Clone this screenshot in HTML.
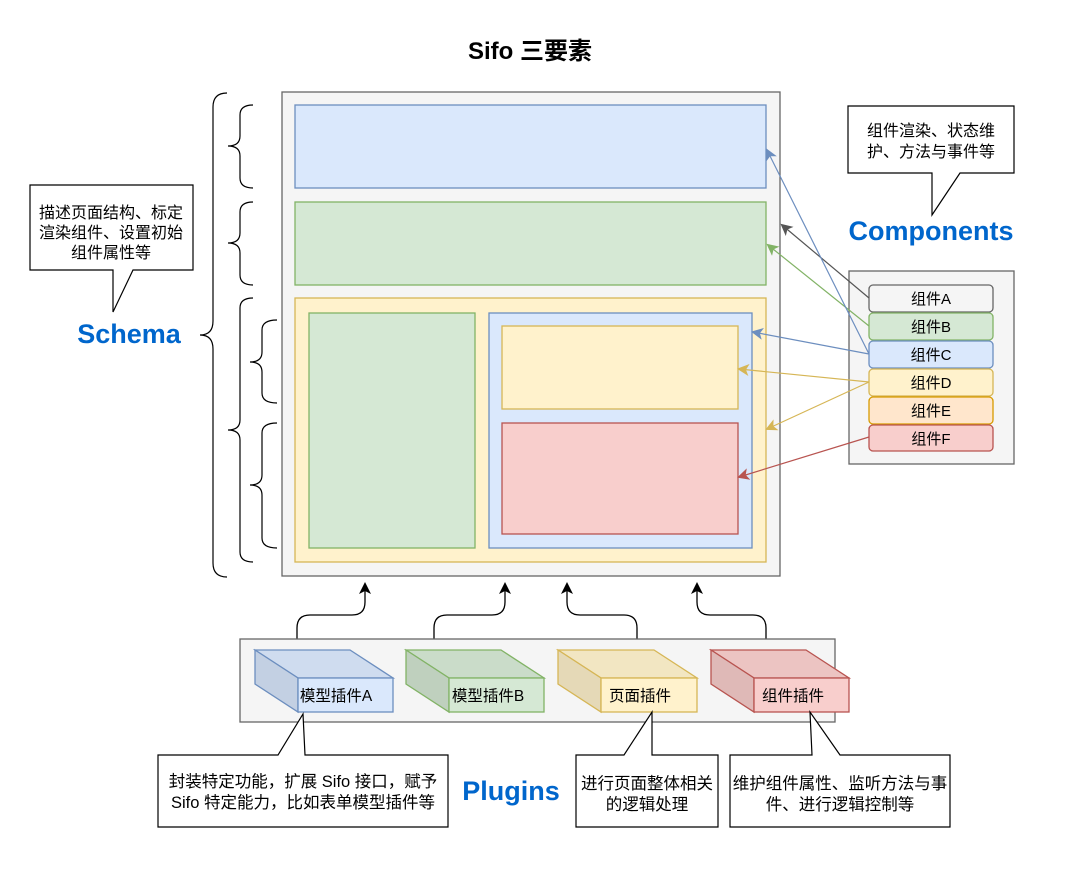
<!DOCTYPE html>
<html><head><meta charset="utf-8"><style>
body{margin:0;background:#fff}
text{font-family:"Liberation Sans","Noto Sans CJK SC",sans-serif}
</style></head><body>
<svg width="1070" height="872" viewBox="0 0 1070 872" xmlns="http://www.w3.org/2000/svg">
<defs>
<marker id="ab" markerWidth="12" markerHeight="12" refX="10" refY="6" orient="auto" markerUnits="userSpaceOnUse"><path d="M0,0 L12,6 L0,12 L3,6 Z" fill="#6c8ebf"/></marker>
<marker id="ag" markerWidth="12" markerHeight="12" refX="10" refY="6" orient="auto" markerUnits="userSpaceOnUse"><path d="M0,0 L12,6 L0,12 L3,6 Z" fill="#82b366"/></marker>
<marker id="ak" markerWidth="12" markerHeight="12" refX="10" refY="6" orient="auto" markerUnits="userSpaceOnUse"><path d="M0,0 L12,6 L0,12 L3,6 Z" fill="#555"/></marker>
<marker id="ay" markerWidth="12" markerHeight="12" refX="10" refY="6" orient="auto" markerUnits="userSpaceOnUse"><path d="M0,0 L12,6 L0,12 L3,6 Z" fill="#d6b656"/></marker>
<marker id="ar" markerWidth="12" markerHeight="12" refX="10" refY="6" orient="auto" markerUnits="userSpaceOnUse"><path d="M0,0 L12,6 L0,12 L3,6 Z" fill="#b85450"/></marker>
<marker id="a0" markerWidth="12" markerHeight="12" refX="10" refY="6" orient="auto" markerUnits="userSpaceOnUse"><path d="M0,0 L12,6 L0,12 L3,6 Z" fill="#000"/></marker>
</defs>
<text x="530" y="59" text-anchor="middle" font-size="24" font-weight="bold">Sifo 三要素</text>

<rect x="282" y="92" width="498" height="484" fill="#f5f5f5" stroke="#666" stroke-width="1.3"/>
<rect x="295" y="105" width="471" height="83" fill="#dae8fc" stroke="#6c8ebf" stroke-width="1.3"/>
<rect x="295" y="202" width="471" height="83" fill="#d5e8d4" stroke="#82b366" stroke-width="1.3"/>
<rect x="295" y="298" width="471" height="264" fill="#fff2cc" stroke="#d6b656" stroke-width="1.3"/>
<rect x="309" y="313" width="166" height="235" fill="#d5e8d4" stroke="#82b366" stroke-width="1.3"/>
<rect x="489" y="313" width="263" height="235" fill="#dae8fc" stroke="#6c8ebf" stroke-width="1.3"/>
<rect x="502" y="326" width="236" height="83" fill="#fff2cc" stroke="#d6b656" stroke-width="1.3"/>
<rect x="502" y="423" width="236" height="111" fill="#f8cecc" stroke="#b85450" stroke-width="1.3"/>

<g fill="none" stroke="#000" stroke-width="1.2">
<path d="M227,93 Q213,93 213,107 L213,321 Q213,335 200,335 Q213,335 213,349 L213,563 Q213,577 227,577"/>
<path d="M253,105 Q240,105 240,115 L240,136 Q240,146 228,146 Q240,146 240,156 L240,178 Q240,188 253,188"/>
<path d="M253,202 Q240,202 240,212 L240,233 Q240,243 228,243 Q240,243 240,253 L240,275 Q240,285 253,285"/>
<path d="M253,298 Q240,298 240,308 L240,420 Q240,430 228,430 Q240,430 240,440 L240,552 Q240,562 253,562"/>
<path d="M277,320 Q262,320 262,330 L262,352 Q262,362 250,362 Q262,362 262,372 L262,393 Q262,403 277,403"/>
<path d="M277,423 Q262,423 262,433 L262,475 Q262,485 250,485 Q262,485 262,495 L262,538 Q262,548 277,548"/>
</g>

<path d="M30,185 L193,185 L193,270 L133,270 L113,312 L113,270 L30,270 Z" fill="#fff" stroke="#000" stroke-width="1.2"/>
<text font-size="16" text-anchor="middle"><tspan x="111" y="218">描述页面结构、标定</tspan><tspan x="111" y="238">渲染组件、设置初始</tspan><tspan x="111" y="258">组件属性等</tspan></text>
<text x="129" y="343" text-anchor="middle" font-size="27" font-weight="bold" fill="#0066cc">Schema</text>

<path d="M848,106 L1014,106 L1014,173 L960,173 L932,215 L932,173 L848,173 Z" fill="#fff" stroke="#000" stroke-width="1.2"/>
<text font-size="16" text-anchor="middle"><tspan x="931" y="136">组件渲染、状态维</tspan><tspan x="931" y="157">护、方法与事件等</tspan></text>
<text x="931" y="240" text-anchor="middle" font-size="27" font-weight="bold" fill="#0066cc">Components</text>

<rect x="849" y="271" width="165" height="193" fill="#f5f5f5" stroke="#666" stroke-width="1.3"/>
<g stroke-width="1.3">
<rect x="869" y="285" width="124" height="27" rx="4" fill="#f5f5f5" stroke="#666"/>
<rect x="869" y="313" width="124" height="27" rx="4" fill="#d5e8d4" stroke="#82b366"/>
<rect x="869" y="341" width="124" height="27" rx="4" fill="#dae8fc" stroke="#6c8ebf"/>
<rect x="869" y="369" width="124" height="27" rx="4" fill="#fff2cc" stroke="#d6b656"/>
<rect x="869" y="397" width="124" height="27" rx="4" fill="#ffe6cc" stroke="#d79b00"/>
<rect x="869" y="425" width="124" height="26" rx="4" fill="#f8cecc" stroke="#b85450"/>
</g>
<g font-size="15" text-anchor="middle">
<text x="931" y="304">组件A</text><text x="931" y="332">组件B</text><text x="931" y="360">组件C</text>
<text x="931" y="388">组件D</text><text x="931" y="416">组件E</text><text x="931" y="444">组件F</text>
</g>

<g fill="none" stroke-width="1.2">
<line x1="869" y1="298" x2="782" y2="225" stroke="#555" marker-end="url(#ak)"/>
<line x1="869" y1="326" x2="768" y2="245" stroke="#82b366" marker-end="url(#ag)"/>
<line x1="869" y1="354" x2="767" y2="150" stroke="#6c8ebf" marker-end="url(#ab)"/>
<line x1="869" y1="354" x2="753" y2="332" stroke="#6c8ebf" marker-end="url(#ab)"/>
<line x1="869" y1="382" x2="739" y2="369" stroke="#d6b656" marker-end="url(#ay)"/>
<line x1="869" y1="382" x2="767" y2="429" stroke="#d6b656" marker-end="url(#ay)"/>
<line x1="869" y1="437" x2="739" y2="477" stroke="#b85450" marker-end="url(#ar)"/>
</g>

<g fill="none" stroke="#000" stroke-width="1.3">
<path d="M297,650 L297,628 Q297,615 310,615 L352,615 Q365,615 365,602 L365,584" marker-end="url(#a0)"/>
<path d="M434,650 L434,628 Q434,615 447,615 L492,615 Q505,615 505,602 L505,584" marker-end="url(#a0)"/>
<path d="M637,648 L637,628 Q637,615 624,615 L580,615 Q567,615 567,602 L567,584" marker-end="url(#a0)"/>
<path d="M766,650 L766,628 Q766,615 753,615 L710,615 Q697,615 697,602 L697,584" marker-end="url(#a0)"/>
</g>

<rect x="240" y="639" width="595" height="83" fill="#f5f5f5" stroke="#666" stroke-width="1.3"/>
<g stroke-width="1.3">
<g stroke="#6c8ebf"><path d="M255,650 L350,650 L393,678 L298,678 Z" fill="#cfdcef"/><path d="M255,650 L298,678 L298,712 L255,684 Z" fill="#c3d0e3"/><rect x="298" y="678" width="95" height="34" fill="#dae8fc"/></g>
<g stroke="#82b366"><path d="M406,650 L501,650 L544,678 L449,678 Z" fill="#cadcc9"/><path d="M406,650 L449,678 L449,712 L406,684 Z" fill="#bfd0be"/><rect x="449" y="678" width="95" height="34" fill="#d5e8d4"/></g>
<g stroke="#d6b656"><path d="M558,650 L654,650 L697,678 L601,678 Z" fill="#f2e6c2"/><path d="M558,650 L601,678 L601,712 L558,684 Z" fill="#e5d9b7"/><rect x="601" y="678" width="96" height="34" fill="#fff2cc"/></g>
<g stroke="#b85450"><path d="M711,650 L806,650 L849,678 L754,678 Z" fill="#ecc4c2"/><path d="M711,650 L754,678 L754,712 L711,684 Z" fill="#dfb9b7"/><rect x="754" y="678" width="95" height="34" fill="#f8cecc"/></g>
</g>
<g font-size="15.5" text-anchor="middle">
<text x="336" y="701">模型插件A</text><text x="488" y="701">模型插件B</text>
<text x="640" y="701">页面插件</text><text x="793" y="701">组件插件</text>
</g>

<path d="M158,755 L278,755 L303,714 L305,755 L448,755 L448,827 L158,827 Z" fill="#fff" stroke="#000" stroke-width="1.2"/>
<text font-size="16.5" text-anchor="middle"><tspan x="303" y="787">封装特定功能，扩展 Sifo 接口，赋予</tspan><tspan x="303" y="808">Sifo 特定能力，比如表单模型插件等</tspan></text>
<text x="511" y="800" text-anchor="middle" font-size="27" font-weight="bold" fill="#0066cc">Plugins</text>
<path d="M576,755 L624,755 L652,712 L652,755 L718,755 L718,827 L576,827 Z" fill="#fff" stroke="#000" stroke-width="1.2"/>
<text font-size="16.5" text-anchor="middle"><tspan x="647" y="789">进行页面整体相关</tspan><tspan x="647" y="810">的逻辑处理</tspan></text>
<path d="M730,755 L812,755 L810,712 L840,755 L950,755 L950,827 L730,827 Z" fill="#fff" stroke="#000" stroke-width="1.2"/>
<text font-size="16.5" text-anchor="middle"><tspan x="840" y="789">维护组件属性、监听方法与事</tspan><tspan x="840" y="810">件、进行逻辑控制等</tspan></text>
</svg>
</body></html>
